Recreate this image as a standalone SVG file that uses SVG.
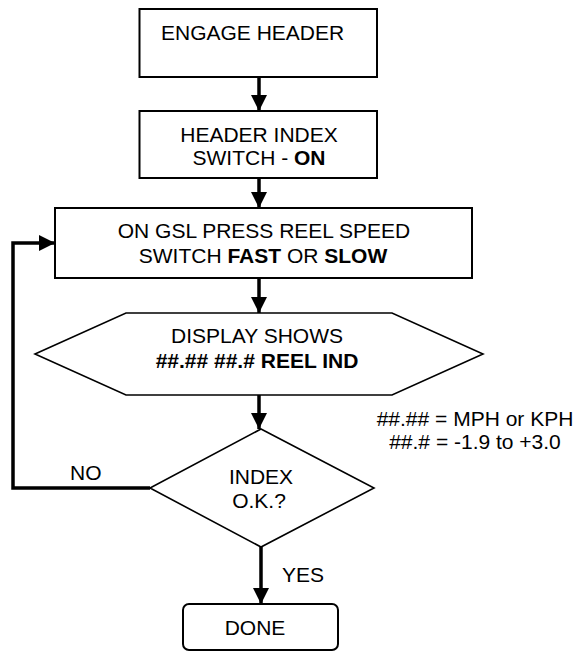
<svg xmlns="http://www.w3.org/2000/svg" width="581" height="652" viewBox="0 0 581 652">
<defs>
<marker id="ah" viewBox="0 0 16 16" refX="16" refY="8" markerWidth="16" markerHeight="16" markerUnits="userSpaceOnUse" orient="auto">
<path d="M0,0 L16,8 L0,16 Z" fill="#000"/>
</marker>
<style>
.box{fill:#fff;stroke:#000;stroke-width:2}
.shape{fill:#fff;stroke:#000;stroke-width:1.6}
.t{font-family:"Liberation Sans",Arial,sans-serif;font-size:21px;fill:#000}
.m{text-anchor:middle}
.b{font-weight:bold}
.c{fill:none;stroke:#000;stroke-width:3.5}
</style>
</defs>
<rect width="581" height="652" fill="#fff"/>
<g id="connectors">
<line class="c" x1="259" y1="77" x2="259" y2="111" marker-end="url(#ah)"/>
<line class="c" x1="259" y1="178" x2="259" y2="208" marker-end="url(#ah)"/>
<line class="c" x1="259" y1="278" x2="259" y2="313" marker-end="url(#ah)"/>
<line class="c" x1="259" y1="395" x2="259" y2="429" marker-end="url(#ah)"/>
<line class="c" x1="261" y1="547" x2="261" y2="604" marker-end="url(#ah)"/>
<polyline class="c" points="150,488 13,488 13,243 55,243" marker-end="url(#ah)"/>
<text class="t" x="70" y="480">NO</text>
<text class="t" x="282" y="582">YES</text>
</g>
<g id="engage">
<rect class="box" x="139.5" y="9" width="237.5" height="68"/>
<text class="t" x="161" y="40">ENGAGE HEADER</text>
</g>
<g id="index-switch">
<rect class="box" x="139.5" y="111" width="237.5" height="67"/>
<text class="t m" x="259" y="142">HEADER INDEX</text>
<text class="t m" x="259" y="165">SWITCH - <tspan class="b">ON</tspan></text>
</g>
<g id="reel-speed">
<rect class="box" x="55" y="208" width="417" height="70"/>
<text class="t m" x="264" y="238">ON GSL PRESS REEL SPEED</text>
<text class="t m" x="263" y="263">SWITCH <tspan class="b">FAST</tspan> OR <tspan class="b">SLOW</tspan></text>
</g>
<g id="display">
<polygon class="shape" points="35,354 126,313 392,313 483,354 392,395 126,395"/>
<text class="t m" x="257" y="343">DISPLAY SHOWS</text>
<text class="t m b" x="257" y="368">##.## ##.# REEL IND</text>
</g>
<g id="legend">
<text class="t m" x="475" y="426">##.## = MPH or KPH</text>
<text class="t m" x="475" y="449">##.# = -1.9 to +3.0</text>
</g>
<g id="decision">
<polygon class="shape" points="261,429 374,488 261,547 150,488"/>
<text class="t m" x="261" y="484">INDEX</text>
<text class="t m" x="259" y="508">O.K.?</text>
</g>
<g id="done">
<rect class="box" x="183" y="604" width="155" height="46" rx="6"/>
<text class="t m" x="255" y="635">DONE</text>
</g>
</svg>
